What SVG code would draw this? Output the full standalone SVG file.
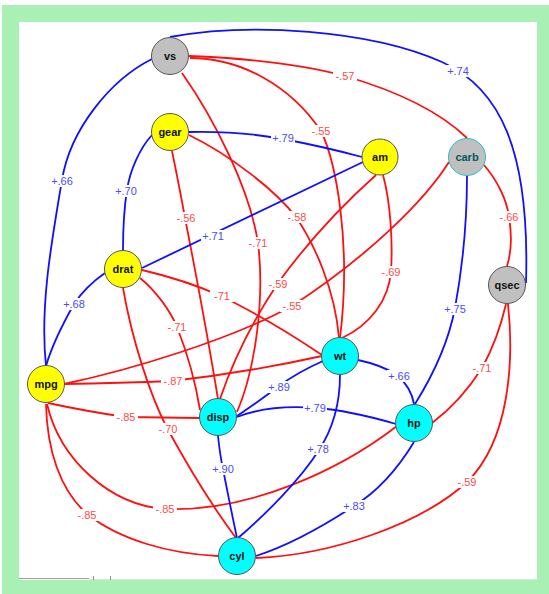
<svg xmlns="http://www.w3.org/2000/svg" width="549" height="594" viewBox="0 0 549 594">
  <style>
    .pos { fill: none; stroke: #1010ff; stroke-width: 1.8; }
    .neg { fill: none; stroke: #ff1010; stroke-width: 1.8; }
    .bg { fill: #ffffff; }
    .lbl { font-family: "Liberation Sans", Arial, sans-serif; font-size: 11px; text-anchor: middle; dominant-baseline: central; }
    .lp { fill: #4a4aff; }
    .ln { fill: #ff4a4a; }
    .node circle { stroke: #555555; stroke-width: 1; }
    .node text { font-family: "Liberation Sans", Arial, sans-serif; font-size: 11px; font-weight: bold; text-anchor: middle; dominant-baseline: central; fill: #111111; }
    .yel { fill: #ffff00; }
    .cya { fill: #00ffff; }
    .gry { fill: #c0c0c0; }
  </style>
  <defs>
    <!-- white plate that breaks a connector under its label -->
    <rect id="plate" x="-12" y="-6" width="24" height="12"/>
  </defs>

  <!-- window frame -->
  <rect x="0" y="0" width="549" height="594" fill="#ffffff"/>
  <rect x="2" y="5" width="547" height="589" fill="#a9f0b4"/>
  <rect x="19" y="22" width="518" height="558" fill="#ffffff"/>
  <line x1="19" y1="578.5" x2="89" y2="578.5" stroke="#a0a0a0" stroke-width="1"/>
  <line x1="89" y1="579.5" x2="537" y2="579.5" stroke="#e0e0e0" stroke-width="1"/>
  <line x1="93.5" y1="576" x2="93.5" y2="580" stroke="#909090" stroke-width="1"/>
  <line x1="110.5" y1="576" x2="110.5" y2="580" stroke="#909090" stroke-width="1"/>

  <g id="connectors">
    <path class="pos" d="M170,37 C250,22 370,30 442,62 C500,88 530,150 526,283"/>
    <path class="pos" d="M152,59 C110,80 70,130 62,180 C50,250 40,310 46,366"/>
    <path class="neg" d="M189,56 C240,58 300,64 345,76 C400,92 440,112 467,138"/>
    <path class="neg" d="M190,58 C240,58 290,85 321,131 C335,160 352,240 340,338"/>
    <path class="neg" d="M182,73 C215,120 250,190 258,243 C265,300 255,370 237,412"/>
    <path class="pos" d="M189,132 Q240,131 283,139 Q325,147 362,157"/>
    <path class="pos" d="M152,135 C140,148 130,170 127,190 C123,215 123,235 123,250"/>
    <path class="neg" d="M172,151 Q180,190 185,218 Q205,320 218,399"/>
    <path class="neg" d="M189,135 C230,155 275,190 296,217 C315,245 335,290 339,338"/>
    <path class="pos" d="M363,162 L142,268"/>
    <path class="neg" d="M376,175 Q320,225 278,283 Q240,340 220,399"/>
    <path class="neg" d="M383,175 C390,200 393,240 391,271 C389,300 370,325 342,338"/>
    <path class="neg" d="M449,162 C425,200 370,255 292,306 C230,340 130,370 64,384"/>
    <path class="neg" d="M484,165 C497,180 507,200 509,217 C512,235 512,250 507,266"/>
    <path class="pos" d="M467,176 C467,220 462,270 455,308 C448,345 430,380 415,404"/>
    <path class="pos" d="M105,273 C92,282 80,295 74,304 C65,320 52,345 46,366"/>
    <path class="neg" d="M142,270 Q185,280 221,296 Q270,320 322,355"/>
    <path class="neg" d="M140,278 C155,290 170,310 177,327 C188,355 196,385 200,410"/>
    <path class="neg" d="M123,288 C132,340 150,395 167,428 C190,470 215,510 236,538"/>
    <path class="neg" d="M64,384 Q120,383 172,381 Q250,372 322,356"/>
    <path class="neg" d="M48,403 Q90,412 126,417 L199,418"/>
    <path class="neg" d="M47,404 C60,460 110,505 165,509 C250,512 340,470 397,426"/>
    <path class="neg" d="M46,404 C47,450 60,490 87,514 C120,540 170,554 218,556"/>
    <path class="pos" d="M358,360 C372,363 388,369 397,375 C405,382 412,392 414,404"/>
    <path class="pos" d="M323,361 Q298,372 279,386 Q258,402 237,416"/>
    <path class="pos" d="M340,375 C340,405 332,430 319,450 C300,480 265,515 238,538"/>
    <path class="pos" d="M237,417 C260,408 290,406 316,408 C345,410 372,417 396,424"/>
    <path class="pos" d="M218,436 Q220,455 223,469 Q230,505 237,538"/>
    <path class="pos" d="M414,442 C400,465 380,490 354,506 C325,525 290,545 256,556"/>
    <path class="neg" d="M508,304 C514,360 510,440 467,482 C420,525 330,555 256,558"/>
    <path class="neg" d="M506,304 C500,330 492,350 482,368 C468,390 452,408 432,423"/>

    <!-- correlation labels on white plates -->
    <g class="bg">
      <use href="#plate" x="458" y="71"/>
      <use href="#plate" x="62" y="181"/>
      <use href="#plate" x="345" y="76"/>
      <use href="#plate" x="321" y="131"/>
      <use href="#plate" x="258" y="243"/>
      <use href="#plate" x="283" y="138"/>
      <use href="#plate" x="126" y="191"/>
      <use href="#plate" x="186" y="218"/>
      <use href="#plate" x="297" y="217"/>
      <use href="#plate" x="213" y="236"/>
      <use href="#plate" x="278" y="284"/>
      <use href="#plate" x="391" y="272"/>
      <use href="#plate" x="292" y="306"/>
      <use href="#plate" x="509" y="217"/>
      <use href="#plate" x="455" y="309"/>
      <use href="#plate" x="74" y="304"/>
      <use href="#plate" x="222" y="296"/>
      <use href="#plate" x="177" y="327"/>
      <use href="#plate" x="168" y="429"/>
      <use href="#plate" x="173" y="381"/>
      <use href="#plate" x="126" y="417"/>
      <use href="#plate" x="165" y="509"/>
      <use href="#plate" x="87" y="515"/>
      <use href="#plate" x="399" y="376"/>
      <use href="#plate" x="279" y="387"/>
      <use href="#plate" x="318" y="449"/>
      <use href="#plate" x="315" y="408"/>
      <use href="#plate" x="223" y="469"/>
      <use href="#plate" x="354" y="506"/>
      <use href="#plate" x="467" y="482"/>
      <use href="#plate" x="482" y="368"/>
    </g>
    <text class="lbl lp" x="458" y="71">+.74</text>
    <text class="lbl lp" x="62" y="181">+.66</text>
    <text class="lbl ln" x="345" y="76">-.57</text>
    <text class="lbl ln" x="321" y="131">-.55</text>
    <text class="lbl ln" x="258" y="243">-.71</text>
    <text class="lbl lp" x="283" y="138">+.79</text>
    <text class="lbl lp" x="126" y="191">+.70</text>
    <text class="lbl ln" x="186" y="218">-.56</text>
    <text class="lbl ln" x="297" y="217">-.58</text>
    <text class="lbl lp" x="213" y="236">+.71</text>
    <text class="lbl ln" x="278" y="284">-.59</text>
    <text class="lbl ln" x="391" y="272">-.69</text>
    <text class="lbl ln" x="292" y="306">-.55</text>
    <text class="lbl ln" x="509" y="217">-.66</text>
    <text class="lbl lp" x="455" y="309">+.75</text>
    <text class="lbl lp" x="74" y="304">+.68</text>
    <text class="lbl ln" x="222" y="296">-71</text>
    <text class="lbl ln" x="177" y="327">-.71</text>
    <text class="lbl ln" x="168" y="429">-.70</text>
    <text class="lbl ln" x="173" y="381">-.87</text>
    <text class="lbl ln" x="126" y="417">-.85</text>
    <text class="lbl ln" x="165" y="509">-.85</text>
    <text class="lbl ln" x="87" y="515">-.85</text>
    <text class="lbl lp" x="399" y="376">+.66</text>
    <text class="lbl lp" x="279" y="387">+.89</text>
    <text class="lbl lp" x="318" y="449">+.78</text>
    <text class="lbl lp" x="315" y="408">+.79</text>
    <text class="lbl lp" x="223" y="469">+.90</text>
    <text class="lbl lp" x="354" y="506">+.83</text>
    <text class="lbl ln" x="467" y="482">-.59</text>
    <text class="lbl ln" x="482" y="368">-.71</text>
  </g>

  <g id="vs" class="node"><circle class="gry" cx="170" cy="56" r="18.5"/><text x="170" y="56">vs</text></g>
  <g id="gear" class="node"><circle class="yel" cx="170" cy="132" r="18.5"/><text x="170" y="132">gear</text></g>
  <g id="am" class="node"><circle class="yel" cx="380" cy="157" r="18"/><text x="380" y="157">am</text></g>
  <g id="carb" class="node"><circle class="gry" cx="467" cy="157" r="18.5" style="stroke:#20c0c0"/><text x="467" y="157" style="fill:#005a5a">carb</text></g>
  <g id="drat" class="node"><circle class="yel" cx="123" cy="269" r="18.5"/><text x="123" y="269">drat</text></g>
  <g id="qsec" class="node"><circle class="gry" cx="507" cy="285" r="18.5"/><text x="507" y="285">qsec</text></g>
  <g id="wt" class="node"><circle class="cya" cx="340" cy="356" r="18.5"/><text x="340" y="356">wt</text></g>
  <g id="mpg" class="node"><circle class="yel" cx="46" cy="384" r="18.5"/><text x="46" y="384">mpg</text></g>
  <g id="disp" class="node"><circle class="cya" cx="218" cy="417" r="18.5"/><text x="218" y="417">disp</text></g>
  <g id="hp" class="node"><circle class="cya" cx="414" cy="423" r="18.5"/><text x="414" y="423">hp</text></g>
  <g id="cyl" class="node"><circle class="cya" cx="237" cy="556" r="18.5"/><text x="237" y="556">cyl</text></g>
</svg>
